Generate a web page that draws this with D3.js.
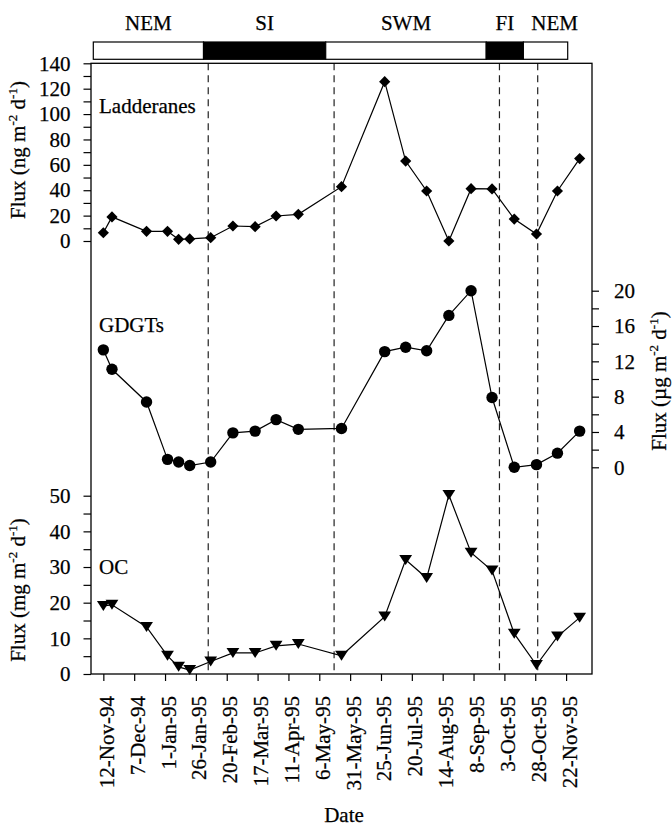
<!DOCTYPE html>
<html>
<head>
<meta charset="utf-8">
<script src="https://cdn.jsdelivr.net/npm/d3@7"></script>
<style>
  html, body { margin: 0; padding: 0; background: #fff; }
  svg { display: block; }
  text { font-family: "Liberation Serif", "Times New Roman", serif; fill: #000; stroke: #000; stroke-width: 0.25px; }
</style>
</head>
<body>
<svg id="chart" width="672" height="831"></svg>
<script>
// Sampling dates of the sediment trap cups
const sampleDates = ["1994-11-12","1994-11-19","1994-12-17","1995-01-03","1995-01-12","1995-01-21",
  "1995-02-07","1995-02-25","1995-03-15","1995-04-01","1995-04-19","1995-05-24","1995-06-28",
  "1995-07-15","1995-08-01","1995-08-19","1995-09-06","1995-09-23","1995-10-11","1995-10-29",
  "1995-11-15","1995-12-03"];

// Fluxes
const ladderaneFlux = [6.5, 19, 7.6, 7.6, 1.3, 1.6, 2.6, 11.8, 11.3, 19.7, 21, 42.8, 125.5, 63, 39.4, 0, 41.2, 41, 17.3, 5.5, 39.4, 64.9]; // ng m-2 d-1
const gdgtFlux = [13.3, 11.1, 7.4, 0.9, 0.6, 0.2, 0.6, 3.9, 4.1, 5.4, 4.3, 4.4, 13.1, 13.6, 13.2, 17.2, 20.0, 7.9, 0, 0.3, 1.6, 4.1]; // µg m-2 d-1
const ocFlux = [19.1, 19.4, 13.2, 5.1, 2.0, 1.1, 3.5, 5.9, 5.9, 7.9, 8.4, 5.1, 16.1, 32, 26.9, 50.2, 34.0, 29.0, 11.3, 2.5, 10.5, 15.8]; // mg m-2 d-1

// Monsoon seasons
const seasonNames = ["NEM", "SI", "SWM", "FI", "NEM"];
const seasonStarts = ["1994-11-05", "1995-02-05", "1995-05-18", "1995-09-29", "1995-10-30"];
const seasonEnds = ["1995-02-05", "1995-05-18", "1995-09-29", "1995-10-30", "1995-12-06"];
const seasonBoundaries = ["1995-02-05", "1995-05-18", "1995-09-29", "1995-10-30"];

// Axis ticks
const dateTickLabels = ["12-Nov-94","7-Dec-94","1-Jan-95","26-Jan-95","20-Feb-95","17-Mar-95","11-Apr-95",
  "6-May-95","31-May-95","25-Jun-95","20-Jul-95","14-Aug-95","8-Sep-95","3-Oct-95","28-Oct-95","22-Nov-95"];
const ladderaneTicks = [0, 10, 20, 30, 40, 50, 60, 70, 80, 90, 100, 110, 120, 130, 140];
const gdgtTicks = [0, 2, 4, 6, 8, 10, 12, 14, 16, 18, 20];
const ocTicks = [0, 5, 10, 15, 20, 25, 30, 35, 40, 45, 50];

const parseIso = d3.utcParse("%Y-%m-%d");
const parseTick = d3.utcParse("%d-%b-%y");
const fmtTick = d3.utcFormat("%-d-%b-%y");

const svg = d3.select("#chart");
const FONT = 21;

const frame = { left: 91, right: 592, top: 63.3, bottom: 674 };

const x = d3.scaleUtc()
  .domain([parseIso("1994-11-02"), parseIso("1995-12-13")])
  .range([frame.left, frame.right]);

// season bar uses its own, slightly narrower, time scale
const xBar = d3.scaleUtc()
  .domain([parseIso("1994-11-05"), parseIso("1995-12-06")])
  .range([93.3, 567.7]);

const yLad = d3.scaleLinear().domain([0, 140]).range([241, frame.top]);
const yGdgt = d3.scaleLinear().domain([0, 20]).range([467.3, 290.7]);
const yOC = d3.scaleLinear().domain([0, 50]).range([frame.bottom, 495.7]);

const dates = sampleDates.map(parseIso);

// ---- season bar ----
const seasons = seasonNames.map((n, i) => ({ name: n, start: parseIso(seasonStarts[i]), end: parseIso(seasonEnds[i]) }));
const isInter = n => n === "SI" || n === "FI";
const barTop = 42, barBottom = 59.3;

svg.append("g").selectAll("rect").data(seasons).join("rect")
  .attr("x", d => xBar(d.start))
  .attr("width", d => xBar(d.end) - xBar(d.start))
  .attr("y", barTop)
  .attr("height", barBottom - barTop)
  .attr("fill", d => isInter(d.name) ? "#000" : "#fff")
  .attr("stroke", "#000")
  .attr("stroke-width", 1.2);

// season names centred over their segment; the last one is set flush
// with the right margin since its segment is too short for the word
svg.append("g").selectAll("text").data(seasons).join("text")
  .attr("y", 30)
  .attr("font-size", FONT)
  .attr("text-anchor", (d, i) => i === seasons.length - 1 ? "end" : "middle")
  .attr("x", (d, i) => i === seasons.length - 1 ? frame.right - 14 : (xBar(d.start) + xBar(d.end)) / 2)
  .text(d => d.name);

// ---- season boundaries ----
svg.append("g").selectAll("line").data(seasonBoundaries.map(parseIso)).join("line")
  .attr("x1", d => x(d)).attr("x2", d => x(d))
  .attr("y1", frame.top).attr("y2", frame.bottom)
  .attr("stroke", "#222")
  .attr("stroke-width", 1.2)
  .attr("stroke-dasharray", "7,5");

// ---- frame ----
svg.append("rect")
  .attr("x", frame.left).attr("y", frame.top)
  .attr("width", frame.right - frame.left).attr("height", frame.bottom - frame.top)
  .attr("fill", "none").attr("stroke", "#000").attr("stroke-width", 1.3);

// ---- axes ----
function styleAxis(g) {
  g.select(".domain").remove();
  g.selectAll(".tick line").attr("stroke", "#000").attr("stroke-width", 1.2);
  g.selectAll(".tick text").attr("font-size", FONT).attr("font-family", "Liberation Serif, serif").attr("fill", "#000");
}

svg.append("g")
  .attr("transform", `translate(${frame.left},0)`)
  .call(d3.axisLeft(yLad).tickValues(ladderaneTicks).tickSize(7.5).tickPadding(13)
    .tickFormat(d => d % 20 === 0 ? d : ""))
  .call(styleAxis);

svg.append("g")
  .attr("transform", `translate(${frame.right},0)`)
  .call(d3.axisRight(yGdgt).tickValues(gdgtTicks).tickSize(7).tickPadding(15)
    .tickFormat(d => d % 4 === 0 ? d : ""))
  .call(styleAxis);

svg.append("g")
  .attr("transform", `translate(${frame.left},0)`)
  .call(d3.axisLeft(yOC).tickValues(ocTicks).tickSize(7.5).tickPadding(13)
    .tickFormat(d => d % 10 === 0 ? d : ""))
  .call(styleAxis);

const xAxis = svg.append("g")
  .attr("transform", `translate(0,${frame.bottom})`)
  .call(d3.axisBottom(x).tickValues(dateTickLabels.map(parseTick)).tickSize(7).tickFormat(fmtTick))
  .call(styleAxis);
xAxis.selectAll(".tick text")
  .attr("text-anchor", "end")
  .attr("dy", null)
  .attr("y", 0)
  .attr("x", 0)
  .attr("transform", "translate(10,22) rotate(-90)");

// ---- series ----
const lineWidth = 1.2;
function drawSeries(values, yScale, marker) {
  const pts = values.map((v, i) => ({ d: dates[i], v }));
  svg.append("path")
    .datum(pts)
    .attr("fill", "none")
    .attr("stroke", "#000")
    .attr("stroke-width", lineWidth)
    .attr("d", d3.line().x(p => x(p.d)).y(p => yScale(p.v)));
  const g = svg.append("g");
  g.selectAll("path").data(pts).join("path")
    .attr("transform", p => `translate(${x(p.d)},${yScale(p.v)})`)
    .attr("d", marker)
    .attr("fill", "#000");
}

const diamond = "M0,-5.6L5.6,0L0,5.6L-5.6,0Z";
const circle = d3.symbol().type(d3.symbolCircle).size(Math.PI * 5.7 * 5.7)();
const triangleDown = "M-6.4,-5L6.4,-5L0,5Z";

drawSeries(ladderaneFlux, yLad, diamond);
drawSeries(gdgtFlux, yGdgt, circle);
drawSeries(ocFlux, yOC, triangleDown);

// ---- labels ----
function panelLabel(txt, yBase) {
  svg.append("text").attr("x", 99).attr("y", yBase).attr("font-size", FONT).text(txt);
}
panelLabel("Ladderanes", 113.3);
panelLabel("GDGTs", 331.7);
panelLabel("OC", 574.3);

function fluxTitle(cx, cy, unit) {
  const t = svg.append("text")
    .attr("transform", `translate(${cx},${cy}) rotate(-90)`)
    .attr("text-anchor", "middle")
    .attr("font-size", FONT);
  t.append("tspan").text(`Flux (${unit} m`);
  t.append("tspan").attr("font-size", 13).attr("dy", -8).text("-2");
  t.append("tspan").attr("dy", 8).text(" d");
  t.append("tspan").attr("font-size", 13).attr("dy", -8).text("-1");
  t.append("tspan").attr("dy", 8).text(")");
}
fluxTitle(25, 150, "ng");
fluxTitle(666, 381, "µg");
fluxTitle(25, 590, "mg");

svg.append("text")
  .attr("x", 344).attr("y", 821.7)
  .attr("text-anchor", "middle")
  .attr("font-size", FONT)
  .text("Date");
</script>
</body>
</html>
